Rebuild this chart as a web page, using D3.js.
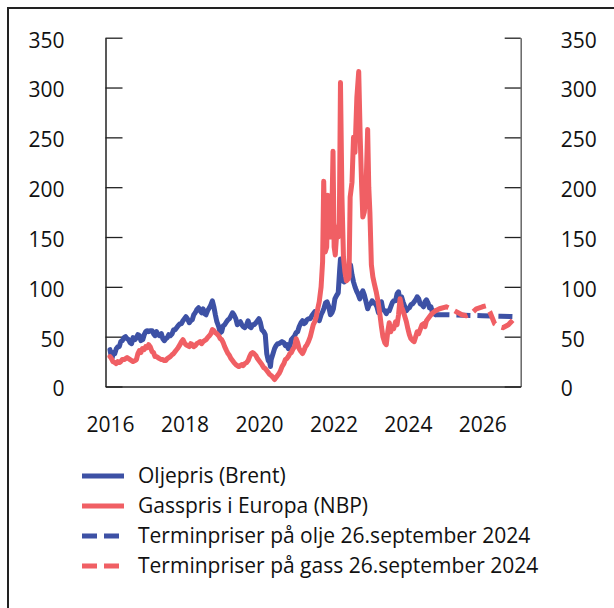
<!DOCTYPE html>
<html>
<head>
<meta charset="utf-8">
<script src="https://cdn.jsdelivr.net/npm/d3@7"></script>
<style>
  html, body { margin: 0; padding: 0; background: #fff; }
  svg { display: block; font-family: "Open Sans", "Noto Sans", sans-serif; }
</style>
</head>
<body>
<svg id="chart" width="614" height="608"></svg>
<script>
// ---- Data (decimal year, value) ----
const yTicks = [0, 50, 100, 150, 200, 250, 300, 350];
const xTicks = [2016, 2018, 2020, 2022, 2024, 2026];

const legendLabels = [
  "Oljepris (Brent)",
  "Gasspris i Europa (NBP)",
  "Terminpriser på olje 26.september 2024",
  "Terminpriser på gass 26.september 2024"
];

const oilBrent = [
  [2016.00,37],[2016.03,31],[2016.06,29],[2016.09,34],[2016.13,33],[2016.17,38],[2016.21,40],[2016.25,40],
  [2016.29,45],[2016.33,46],[2016.38,49],[2016.42,50],[2016.46,48],[2016.50,47],[2016.54,44],[2016.58,43],
  [2016.62,49],[2016.67,47],[2016.71,49],[2016.75,52],[2016.79,51],[2016.83,46],[2016.88,47],[2016.92,52],
  [2016.96,55],[2017.00,56],[2017.04,55],[2017.08,56],[2017.13,56],[2017.17,53],[2017.21,51],[2017.25,55],
  [2017.29,52],[2017.33,51],[2017.38,53],[2017.42,48],[2017.46,46],[2017.50,48],[2017.54,49],[2017.58,52],
  [2017.62,51],[2017.67,53],[2017.71,57],[2017.75,57],[2017.79,59],[2017.83,61],[2017.88,63],[2017.92,63],
  [2017.96,66],[2018.00,68],[2018.04,70],[2018.08,68],[2018.13,64],[2018.17,66],[2018.21,67],[2018.25,72],
  [2018.29,74],[2018.33,77],[2018.38,79],[2018.42,76],[2018.46,74],[2018.50,78],[2018.54,73],[2018.58,72],
  [2018.62,76],[2018.67,79],[2018.71,82],[2018.75,86],[2018.79,80],[2018.83,72],[2018.87,65],[2018.92,60],
  [2018.96,54],[2019.00,55],[2019.04,61],[2019.08,62],[2019.13,65],[2019.17,67],[2019.21,68],[2019.25,71],
  [2019.29,74],[2019.33,72],[2019.38,68],[2019.42,62],[2019.46,64],[2019.50,65],[2019.54,62],[2019.58,60],
  [2019.62,59],[2019.67,62],[2019.71,66],[2019.75,60],[2019.79,59],[2019.83,62],[2019.87,62],[2019.92,64],
  [2019.96,66],[2020.00,68],[2020.04,64],[2020.08,57],[2020.13,55],[2020.17,52],[2020.21,33],[2020.25,26],
  [2020.29,24],[2020.31,20],[2020.33,27],[2020.38,33],[2020.42,38],[2020.46,41],[2020.50,43],[2020.54,43],
  [2020.58,44],[2020.62,45],[2020.67,44],[2020.71,41],[2020.75,42],[2020.79,38],[2020.83,40],[2020.87,47],
  [2020.92,49],[2020.96,51],[2021.00,54],[2021.04,55],[2021.08,60],[2021.13,64],[2021.17,66],[2021.21,63],
  [2021.25,64],[2021.29,67],[2021.33,68],[2021.38,68],[2021.42,71],[2021.46,73],[2021.50,75],[2021.54,73],
  [2021.58,70],[2021.62,66],[2021.67,72],[2021.71,75],[2021.75,79],[2021.79,84],[2021.83,85],[2021.87,81],
  [2021.92,72],[2021.96,74],[2022.00,78],[2022.04,88],[2022.08,91],[2022.13,94],[2022.17,118],[2022.19,128],
  [2022.21,108],[2022.25,106],[2022.29,105],[2022.33,108],[2022.38,112],[2022.42,116],[2022.46,122],[2022.50,112],
  [2022.54,105],[2022.58,100],[2022.62,96],[2022.67,92],[2022.71,88],[2022.75,93],[2022.79,96],[2022.83,92],
  [2022.87,86],[2022.92,78],[2022.96,82],[2023.00,83],[2023.04,86],[2023.08,84],[2023.13,83],[2023.17,80],
  [2023.21,74],[2023.25,79],[2023.29,85],[2023.33,77],[2023.38,76],[2023.42,73],[2023.46,76],[2023.50,76],
  [2023.54,80],[2023.58,84],[2023.62,86],[2023.67,86],[2023.71,93],[2023.75,95],[2023.79,86],[2023.83,90],
  [2023.87,85],[2023.92,80],[2023.96,76],[2024.00,78],[2024.04,79],[2024.08,82],[2024.13,83],[2024.17,85],
  [2024.21,87],[2024.25,90],[2024.29,88],[2024.33,83],[2024.38,82],[2024.42,80],[2024.46,85],[2024.50,87],
  [2024.54,84],[2024.58,79],[2024.62,80],[2024.67,73],[2024.71,75],[2024.74,72]
];

const gasNBP = [
  [2016.00,30],[2016.04,28],[2016.08,25],[2016.13,24],[2016.17,23],[2016.21,25],[2016.25,24],[2016.29,25],
  [2016.33,27],[2016.38,27],[2016.42,28],[2016.46,29],[2016.50,28],[2016.54,27],[2016.58,26],[2016.62,25],
  [2016.67,26],[2016.71,27],[2016.75,33],[2016.79,36],[2016.83,34],[2016.87,38],[2016.92,37],[2016.96,40],
  [2017.00,39],[2017.04,42],[2017.08,40],[2017.13,35],[2017.17,34],[2017.21,30],[2017.25,30],[2017.29,29],
  [2017.33,28],[2017.38,27],[2017.42,27],[2017.46,26],[2017.50,26],[2017.54,28],[2017.58,29],[2017.62,30],
  [2017.67,32],[2017.71,33],[2017.75,35],[2017.79,37],[2017.83,39],[2017.88,42],[2017.92,45],[2017.96,47],
  [2018.00,44],[2018.04,42],[2018.08,41],[2018.13,40],[2018.17,43],[2018.21,42],[2018.25,40],[2018.29,41],
  [2018.33,43],[2018.38,44],[2018.42,45],[2018.46,43],[2018.50,45],[2018.54,46],[2018.58,47],[2018.62,49],
  [2018.67,51],[2018.71,53],[2018.75,57],[2018.79,56],[2018.83,54],[2018.87,53],[2018.92,51],[2018.96,48],
  [2019.00,47],[2019.04,44],[2019.08,40],[2019.13,36],[2019.17,33],[2019.21,31],[2019.25,28],[2019.29,26],
  [2019.33,24],[2019.38,22],[2019.42,21],[2019.46,20],[2019.50,21],[2019.54,22],[2019.58,21],[2019.62,23],
  [2019.67,24],[2019.71,26],[2019.75,30],[2019.79,33],[2019.83,34],[2019.87,33],[2019.92,31],[2019.96,28],
  [2020.00,26],[2020.04,24],[2020.08,22],[2020.13,19],[2020.17,18],[2020.21,16],[2020.25,14],[2020.29,12],
  [2020.33,11],[2020.38,9],[2020.42,7],[2020.46,9],[2020.50,11],[2020.54,13],[2020.58,16],[2020.62,20],
  [2020.67,23],[2020.71,27],[2020.75,28],[2020.79,30],[2020.83,33],[2020.87,34],[2020.92,38],[2020.96,40],
  [2021.00,48],[2021.04,44],[2021.08,38],[2021.13,35],[2021.17,33],[2021.21,36],[2021.25,40],[2021.29,42],
  [2021.33,45],[2021.38,50],[2021.42,56],[2021.46,62],[2021.50,65],[2021.54,70],[2021.58,78],[2021.62,85],
  [2021.67,100],[2021.71,125],[2021.74,206],[2021.76,170],[2021.78,135],[2021.82,140],[2021.85,192],[2021.88,150],
  [2021.92,150],[2021.96,175],[2021.99,236],[2022.02,140],[2022.05,132],[2022.10,160],[2022.13,150],[2022.16,165],
  [2022.19,305],[2022.23,190],[2022.27,130],[2022.31,115],[2022.35,106],[2022.40,108],[2022.42,110],[2022.45,190],
  [2022.50,205],[2022.54,250],[2022.58,235],[2022.63,290],[2022.68,316],[2022.72,250],[2022.76,200],[2022.79,170],
  [2022.83,175],[2022.87,190],[2022.92,258],[2022.95,200],[2022.98,175],[2023.02,122],[2023.06,110],[2023.10,103],
  [2023.15,95],[2023.20,85],[2023.25,72],[2023.29,60],[2023.33,50],[2023.38,44],[2023.42,42],[2023.46,55],
  [2023.50,64],[2023.54,55],[2023.58,60],[2023.62,58],[2023.67,65],[2023.71,62],[2023.75,72],[2023.79,88],
  [2023.83,80],[2023.87,76],[2023.92,70],[2023.96,65],[2024.00,58],[2024.04,52],[2024.08,48],[2024.13,46],
  [2024.17,45],[2024.21,50],[2024.25,55],[2024.29,53],[2024.33,57],[2024.38,62],[2024.42,63],[2024.46,60],
  [2024.50,66],[2024.54,68],[2024.58,70],[2024.62,72],[2024.67,74],[2024.71,75],[2024.74,76]
];

const oilForward = [
  [2024.74,72],[2025.00,72],[2025.50,71.5],[2026.00,71],[2026.50,70.5],[2026.92,70]
];

const gasForward = [
  [2024.74,76],[2024.85,78],[2025.03,80],[2025.15,78],[2025.30,75],[2025.45,72],[2025.57,71],[2025.70,73],
  [2025.84,78],[2026.00,80],[2026.10,81],[2026.20,75],[2026.33,63],[2026.45,60],[2026.55,59],[2026.70,62],
  [2026.85,68]
];

// ---- Styles ----
const BLUE = "#3d51a5";
const RED = "#f05f64";
const FONT_SIZE = 21;

const svg = d3.select("#chart");

// frame
svg.append("path")
  .attr("d", "M8,608 L8,8 L614,8")
  .attr("fill", "none").attr("stroke", "#222").attr("stroke-width", 2);

const x = d3.scaleLinear().domain([2015.88, 2027.03]).range([105.5, 520.7]);
const y = d3.scaleLinear().domain([0, 350]).range([386.5, 37.7]);

// axes
const gL = svg.append("g").attr("transform", `translate(${x.range()[0]},0)`)
  .call(d3.axisLeft(y).tickValues(yTicks).tickSize(-17).tickSizeOuter(0).tickPadding(41));
const gR = svg.append("g").attr("transform", `translate(${x.range()[1]},0)`)
  .call(d3.axisRight(y).tickValues(yTicks).tickSize(-16).tickSizeOuter(0).tickPadding(40));
const gB = svg.append("g").attr("transform", `translate(0,${y.range()[0]})`)
  .call(d3.axisBottom(x).tickValues(xTicks).tickFormat(d3.format("d")).tickSize(0).tickSizeOuter(0).tickPadding(31));

[gL, gR, gB].forEach(g => {
  g.selectAll("text").attr("font-size", FONT_SIZE).attr("fill", "#111")
    .attr("font-family", "'Open Sans', sans-serif");
  g.select(".domain").attr("stroke", "#222").attr("stroke-width", 1.5);
  g.selectAll(".tick line").attr("stroke", "#222").attr("stroke-width", 1.3);
});
gR.select(".domain").attr("stroke", "#666");
gL.selectAll("text").attr("dy", "0.45em");
gR.selectAll("text").attr("dy", "0.45em");

// lines
const line = d3.line().x(d => x(d[0])).y(d => y(d[1]));

function draw(data, color, dashed) {
  svg.append("path").datum(data)
    .attr("fill", "none")
    .attr("stroke", color)
    .attr("stroke-width", 5)
    .attr("stroke-linejoin", "round")
    .attr("stroke-linecap", dashed ? "butt" : "round")
    .attr("stroke-dasharray", dashed ? "14,7" : null)
    .attr("d", line);
}
draw(oilBrent, BLUE, false);
draw(oilForward, BLUE, true);
draw(gasNBP, RED, false);
draw(gasForward, RED, true);

// legend
const legendColors = [BLUE, RED, BLUE, RED];
const legendDashed = [false, false, true, true];
const legendY = [476, 506, 536, 566];
legendLabels.forEach((lab, i) => {
  const g = svg.append("g").attr("transform", `translate(0,${legendY[i]})`);
  g.append("line").attr("x1", 82).attr("x2", legendDashed[i] ? 120 : 124).attr("y1", 0).attr("y2", 0)
    .attr("stroke", legendColors[i]).attr("stroke-width", 5)
    .attr("stroke-dasharray", legendDashed[i] ? "15,7" : null);
  g.append("text").attr("x", 138).attr("y", 0).attr("dy", "0.35em")
    .attr("font-size", FONT_SIZE).attr("fill", "#111").text(lab);
});
</script>
</body>
</html>
